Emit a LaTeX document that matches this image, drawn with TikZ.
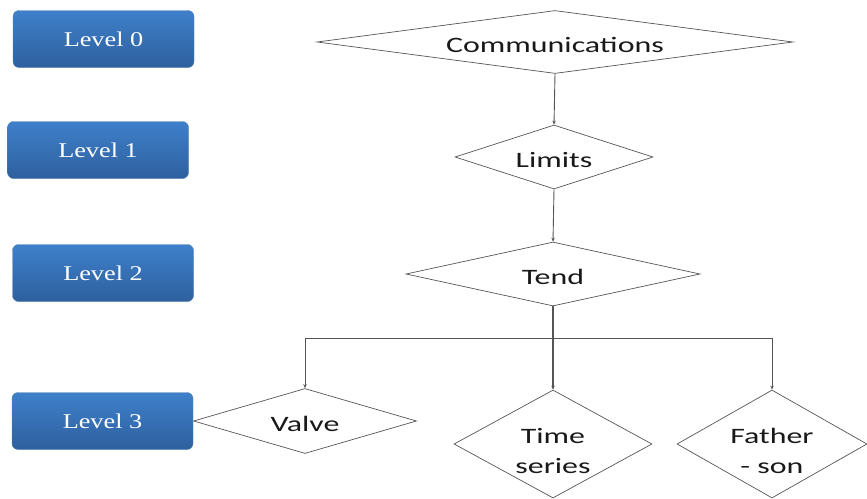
\documentclass[tikz,border=0pt]{standalone}
\usepackage{fontspec}
\usetikzlibrary{shapes.geometric,arrows.meta}
\newfontfamily\dfont[FakeStretch=1.45]{Carlito}
\newfontfamily\lfont[FakeStretch=1.25]{Liberation Serif}
\definecolor{boxtop}{RGB}{62,128,202}
\definecolor{boxbot}{RGB}{46,96,158}
\definecolor{lineg}{RGB}{85,85,85}
\tikzset{
  levelbox/.style={rounded corners=6pt, minimum width=181pt, minimum height=57pt,
    top color=boxtop, bottom color=boxbot, draw=boxbot!80!white, line width=0.4pt,
    text=white, font=\lfont\fontsize{21}{24}\selectfont, inner sep=0pt},
  dia/.style={shape=diamond, draw=lineg, line width=0.7pt, inner sep=0pt},
  dtext/.style={font=\dfont\fontsize{22}{30}\selectfont, align=center, text=black!90, inner sep=0pt},
  conn/.style={draw=lineg, line width=0.9pt},
  arr/.style={conn, -{Stealth[length=4pt,width=3.5pt]}}
}
\begin{document}
\begin{tikzpicture}[x=1pt,y=-1pt]
\useasboundingbox (0,0) rectangle (867,498);
% level boxes
\node[levelbox] (l0) at (103.5,39) {Level 0};
\node[levelbox] (l1) at (98,150) {Level 1};
\node[levelbox] (l2) at (103,273) {Level 2};
\node[levelbox] (l3) at (102.5,421) {Level 3};
% diamonds
\node[dia, minimum width=476pt, minimum height=63pt,
  label={[dtext, yshift=-3pt]center:Communications}] (comm) at (555,42) {};
\node[dia, minimum width=198pt, minimum height=64pt,
  label={[dtext, yshift=-3pt]center:Limits}] (lim) at (554,157) {};
\node[dia, minimum width=294pt, minimum height=64pt,
  label={[dtext, yshift=-3pt]center:Tend}] (tend) at (553,274) {};
\node[dia, minimum width=223pt, minimum height=65pt,
  label={[dtext, yshift=-3pt]center:Valve}] (valve) at (305,421) {};
\node[dia, minimum width=198pt, minimum height=108pt,
  label={[dtext, yshift=-7pt]center:Time\\series}] (ts) at (553,444) {};
\node[dia, minimum width=190pt, minimum height=108pt,
  label={[dtext, yshift=-7pt]center:Father\\- son}] (fs) at (772,444) {};
% connectors
\draw[arr] (comm.south) -- (lim.north);
\draw[arr] (lim.south) -- (tend.north);
\draw[arr, line width=1.4pt] (tend.south) -- (ts.north);
\coordinate (bus) at (553,338);
\draw[arr] (bus) -| (valve.north);
\draw[arr] (bus) -| (fs.north);
\end{tikzpicture}
\end{document}
